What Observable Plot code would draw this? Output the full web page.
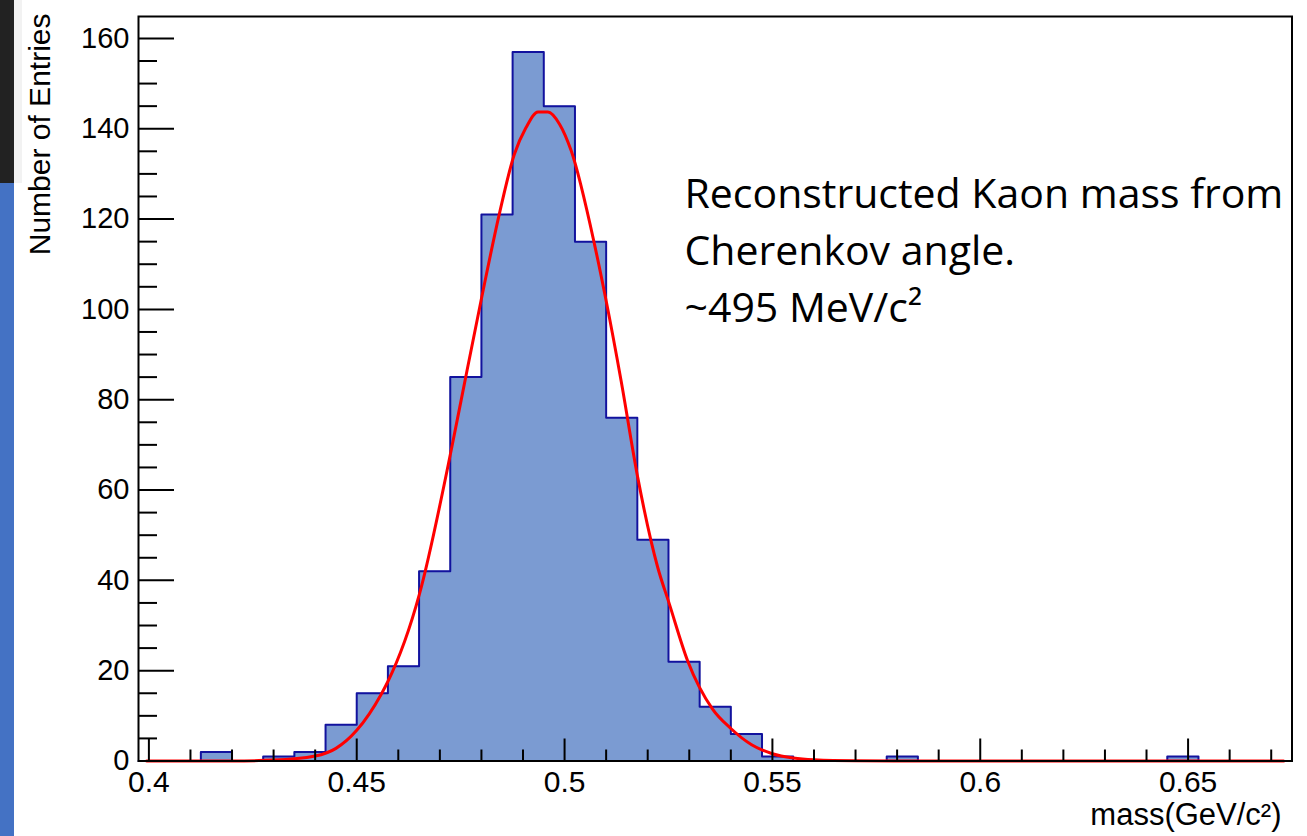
<!DOCTYPE html>
<html>
<head>
<meta charset="utf-8">
<script src="https://cdn.jsdelivr.net/npm/d3@7"></script>
<script src="https://cdn.jsdelivr.net/npm/@observablehq/plot@0.6"></script>
<style>
  html, body { margin: 0; padding: 0; background: #fff; }
  body { width: 1307px; height: 836px; position: relative; overflow: hidden; }
  .band { position: absolute; }
  .band-dark { left: 0; top: 0; width: 14px; height: 183px; background: #222; }
  .band-light { left: 14px; top: 0; width: 8px; height: 183px; background: #f2f2f2; }
  .band-blue { left: 0; top: 183px; width: 14px; height: 653px; background: #4472c4; }
  #chart { position: absolute; left: 0; top: 0; }
</style>
</head>
<body>
<div class="band band-dark"></div>
<div class="band band-light"></div>
<div class="band band-blue"></div>
<div id="chart"></div>
<script>
// Reconstructed kaon mass: 37 bins of 7.5 MeV starting at 0.3975 GeV/c^2
const binLow = 0.3975;
const binWidth = 0.0075;
const counts = [
  0, 0, 2, 0, 1, 2, 8, 15, 21, 42,
  85, 121, 157, 145, 115, 76, 49, 22, 12, 6,
  1, 0, 0, 0, 1, 0, 0, 0, 0, 0,
  0, 0, 0, 1, 0, 0, 0
];

// Gaussian fit curve, sampled along its drawn path (mass, entries)
const fitMass = [
  0.3995, 0.420, 0.430, 0.440, 0.445, 0.450, 0.4559, 0.4575, 0.4651, 0.4727,
  0.4751, 0.4799, 0.4843, 0.4879, 0.4907, 0.4936, 0.4960, 0.4988, 0.5016, 0.5072,
  0.5100, 0.5136, 0.5176, 0.5224, 0.5252, 0.5296, 0.5356, 0.5400, 0.5450, 0.5500,
  0.5550, 0.5600, 0.5700, 0.5800, 0.6730
];
const fitEntries = [
  0, 0.02, 0.2, 1.1, 2.8, 6.8, 14.8, 17.6, 37.0, 68.7,
  79.8, 101.9, 121.1, 134.3, 140.2, 143.7, 143.7, 141.0, 135.1, 114.4,
  101.9, 84.2, 62.8, 42.9, 34.8, 22.2, 11.5, 7.2, 3.6, 1.6,
  0.65, 0.25, 0.03, 0, 0
];

const xMajorTicks = [0.4, 0.45, 0.5, 0.55, 0.6, 0.65];
const xTickLabels = ["0.4", "0.45", "0.5", "0.55", "0.6", "0.65"];
const yMajorTicks = [0, 20, 40, 60, 80, 100, 120, 140, 160];
const yMax = 164.85;

const annotation = "Reconstructed Kaon mass from\nCherenkov angle.\n~495 MeV/c\u00B2";

// minor ticks: every 0.01 on x, every 5 entries on y
const xMinorTicks = d3.range(41, 68).map(k => k / 100)
  .filter(v => !xMajorTicks.some(t => Math.abs(t - v) < 1e-9));
const yMinorTicks = d3.range(5, yMax, 5).filter(v => v % 20 !== 0);

// histogram outline as a step contour over the bin edges
const contour = counts.map((n, i) => ({x: binLow + i * binWidth, n}));
contour.push({x: binLow + counts.length * binWidth, n: counts[counts.length - 1]});
const fit = fitMass.map((m, i) => ({m, v: fitEntries[i]}));

const W = 1307, H = 836;
const mL = 138, mR = 15.5, mT = 16, mB = 75.5;
const frameW = W - mL - mR, frameH = H - mT - mB;
const axisFont = "'Liberation Sans', Arial, Helvetica, sans-serif";

const chart = Plot.plot({
  width: W,
  height: H,
  marginLeft: mL,
  marginRight: mR,
  marginTop: mT,
  marginBottom: mB,
  style: {background: "transparent", fontFamily: axisFont, color: "#000", overflow: "visible"},
  x: {domain: [binLow, binLow + counts.length * binWidth]},
  y: {domain: [0, yMax]},
  marks: [
    Plot.areaY(contour, {x: "x", y: "n", curve: "step-after", fill: "#7b9bd2"}),
    Plot.line(contour, {x: "x", y: "n", curve: "step-after", stroke: "#12129e", strokeWidth: 2}),
    Plot.line(fit, {x: "m", y: "v", curve: "monotone-x", stroke: "#ff0000", strokeWidth: 3}),
    Plot.tickX(xMajorTicks, {x: d => d, insetTop: frameH - 22, stroke: "#000", strokeWidth: 2}),
    Plot.tickX(xMinorTicks, {x: d => d, insetTop: frameH - 11, stroke: "#000", strokeWidth: 2}),
    Plot.tickY(yMajorTicks, {y: d => d, insetRight: frameW - 36, stroke: "#000", strokeWidth: 2}),
    Plot.tickY(yMinorTicks, {y: d => d, insetRight: frameW - 19, stroke: "#000", strokeWidth: 2}),
    Plot.frame({stroke: "#000", strokeWidth: 2}),
    Plot.axisX({
      ticks: xMajorTicks, tickSize: 0, tickPadding: 10, fontSize: 30, label: null,
      tickFormat: d => xTickLabels[xMajorTicks.indexOf(d)]
    }),
    Plot.axisY({ticks: yMajorTicks, tickSize: 0, tickPadding: 9, fontSize: 29, label: null}),
    Plot.text(["Number of Entries"], {
      frameAnchor: "top-left", rotate: -90, textAnchor: "end", lineAnchor: "bottom",
      dx: -89, dy: -3, fontSize: 30, fill: "#000"
    }),
    Plot.text(["mass(GeV/c\u00B2)"], {
      frameAnchor: "bottom-right", textAnchor: "end", lineAnchor: "bottom",
      dx: -10.5, dy: 63.5, fontSize: 31, fill: "#000"
    }),
    Plot.text([annotation], {
      frameAnchor: "top-left", textAnchor: "start", lineAnchor: "top",
      dx: 546, dy: 151.5, fontSize: 41, lineHeight: 57 / 41,
      fontFamily: "'Open Sans', Lato, sans-serif", fill: "#000"
    })
  ]
});

document.getElementById("chart").appendChild(chart);
</script>
</body>
</html>
